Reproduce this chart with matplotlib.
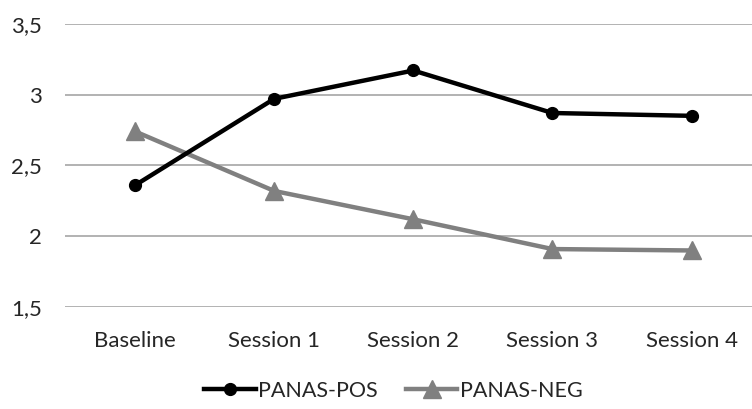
import matplotlib
matplotlib.use('Agg')
import matplotlib.pyplot as plt
from matplotlib.ticker import FuncFormatter

# 場次與平均分數
sessions = ['Baseline', 'Session 1', 'Session 2', 'Session 3', 'Session 4']
panas_pos = [2.36, 2.97, 3.17, 2.87, 2.85]
panas_neg = [2.74, 2.32, 2.12, 1.91, 1.90]
y_ticks = [1.5, 2, 2.5, 3, 3.5]

plt.rcParams['font.family'] = ['Lato', 'DejaVu Sans']

fig = plt.figure(figsize=(7.52, 4.09), dpi=100)
# 類別軸右側超出畫面
ax = fig.add_axes([0.0871, 0.249, 0.925, 0.693])

x = list(range(len(sessions)))
ax.plot(x, panas_pos, color='black', lw=3.2, marker='o', markersize=8.5,
        label='PANAS-POS', zorder=3)
ax.plot(x, panas_neg, color='#808080', lw=3.2, marker='^', markersize=13,
        label='PANAS-NEG', zorder=2)

ax.set_xlim(-0.5, 4.5)
ax.set_ylim(1.5, 3.5)
ax.set_xticks(x)
ax.set_xticklabels(sessions)
ax.set_yticks(y_ticks)
ax.yaxis.set_major_formatter(FuncFormatter(lambda v, p: ('%g' % v).replace('.', ',')))
ax.grid(axis='y', color='#a6a6a6', lw=1.2)
ax.set_axisbelow(True)
for s in ax.spines.values():
    s.set_visible(False)
ax.tick_params(length=0, labelsize=16, colors='#262626')
ax.tick_params(axis='x', pad=17)
ax.tick_params(axis='y', pad=17)

fig.legend(loc='center', bbox_to_anchor=(0.523, 0.045), ncol=2, frameon=False,
           fontsize=15.5, handlelength=2.4, handletextpad=0.1, columnspacing=1.3,
           labelcolor='#262626')

plt.savefig('out.png', dpi=100)
